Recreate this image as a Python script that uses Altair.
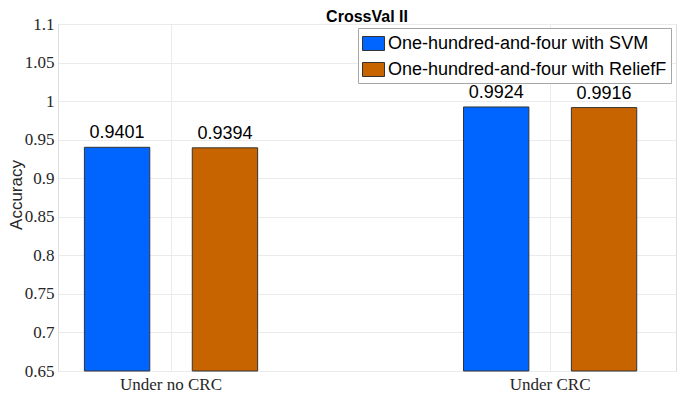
import altair as alt
import pandas as pd

categories = ["Under no CRC", "Under CRC"]
series = ["One-hundred-and-four with SVM", "One-hundred-and-four with ReliefF"]
svm_vals = [0.9401, 0.9924]
relieff_vals = [0.9394, 0.9916]
y_ticks = [0.65, 0.7, 0.75, 0.8, 0.85, 0.9, 0.95, 1.0, 1.05, 1.1]
y_min, y_max = 0.65, 1.1
colors = ["#0064FF", "#C86400"]
chart_title = "CrossVal II"

rows = []
for i, c in enumerate(categories):
    rows.append({"cat": c, "series": series[0], "val": svm_vals[i]})
    rows.append({"cat": c, "series": series[1], "val": relieff_vals[i]})
df = pd.DataFrame(rows)

W, H = 618, 347

x_enc = alt.X(
    "cat:N",
    sort=categories,
    scale=alt.Scale(paddingInner=0.543, paddingOuter=0.0866, align=0.402),
    axis=alt.Axis(
        title=None, labelAngle=0, labelFont="Liberation Serif", labelFontSize=17,
        labelColor="#262626", labelBaseline="alphabetic", labelPadding=18,
        ticks=False, tickSize=0, domain=False, grid=True, gridColor="#ebebeb",
        labelOverlap=False,
    ),
)
xoff = alt.XOffset("series:N", sort=series, scale=alt.Scale(paddingInner=0.394, paddingOuter=0))
y_enc = alt.Y(
    "val:Q",
    scale=alt.Scale(domain=[y_min, y_max], zero=False, nice=False),
    axis=alt.Axis(
        title="Accuracy", values=y_ticks, tickCount=len(y_ticks) + 2,
        format="~g", labelOverlap=False,
        labelFont="Liberation Serif", labelFontSize=17, labelColor="#262626",
        labelPadding=4, ticks=False, tickSize=0, domain=False,
        grid=True, gridColor="#ebebeb",
        titleFont="Liberation Sans", titleFontSize=17, titleFontWeight="normal",
        titleColor="#262626", titleAngle=270, titleBaseline="alphabetic",
        titleX=-37, titleY=H / 2 - 3, titleAlign="center",
    ),
)

square = "M-1,-0.636L1,-0.636L1,0.636L-1,0.636Z"

bars = alt.Chart(df).mark_bar(stroke="#333333", strokeWidth=1).encode(
    x=x_enc,
    xOffset=xoff,
    y=y_enc,
    y2=alt.Y2(datum=y_min),
    color=alt.Color(
        "series:N", sort=series,
        scale=alt.Scale(domain=series, range=colors),
        legend=alt.Legend(
            title=None, orient="none", legendX=300, legendY=4,
            symbolType=square, symbolSize=484, symbolStrokeColor="#333333",
            symbolStrokeWidth=1, symbolOpacity=1,
            labelFont="Liberation Sans", labelFontSize=18, labelColor="#000000",
            labelOffset=3, rowPadding=5, padding=4, labelLimit=400,
            strokeColor="#a6a6a6", fillColor="#ffffff",
        ),
    ),
)

labels = alt.Chart(df).mark_text(
    font="Liberation Sans", fontSize=18, color="#000000",
    baseline="alphabetic", dy=-9,
).encode(
    x=alt.X("cat:N", sort=categories),
    xOffset=alt.XOffset("series:N", sort=series),
    y=alt.Y("val:Q"),
    text=alt.Text("val:Q", format=".4f"),
)

title_mark = alt.Chart(pd.DataFrame({"t": [chart_title]})).mark_text(
    font="Liberation Sans", fontSize=16, fontWeight="bold", color="#000000",
    baseline="alphabetic", align="center",
).encode(
    x=alt.value(W / 2),
    y=alt.value(-2),
    text="t:N",
)

chart = alt.layer(bars, labels, title_mark).properties(
    width=W,
    height=H,
    padding={"left": 50, "top": 16, "right": 1, "bottom": 21},
    autosize=alt.AutoSizeParams(type="none"),
).configure_view(stroke="#a6a6a6", strokeWidth=1).configure(background="white")

chart.save("out.html", embed_options={"renderer": "svg", "actions": False})
